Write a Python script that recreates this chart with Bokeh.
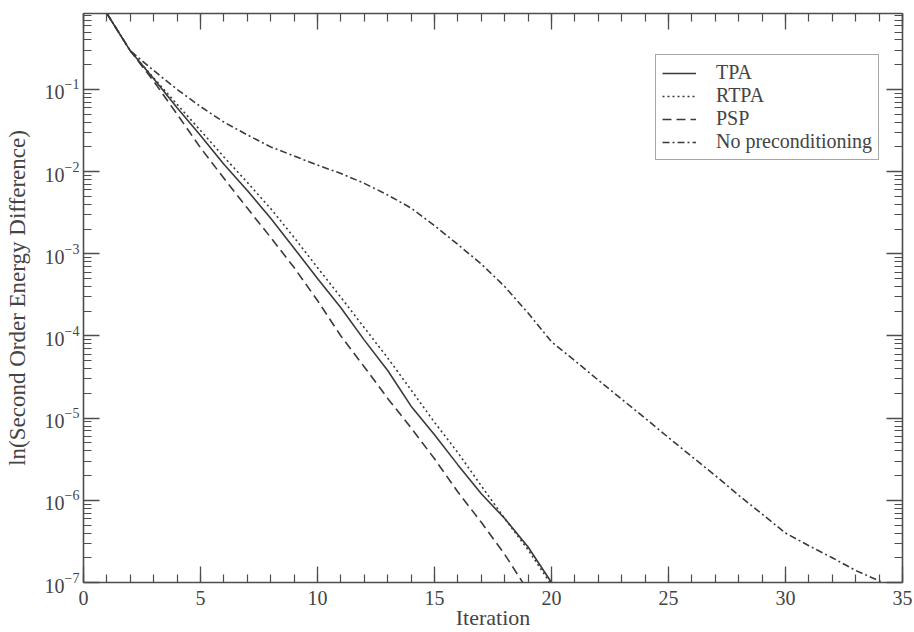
from bokeh.plotting import figure
from bokeh.models import (Range1d, FixedTicker, LinearAxis, LogAxis, Legend,
                          LegendItem, LogTickFormatter, CustomJSTickFormatter)
from bokeh.embed import file_html
from bokeh.resources import INLINE

# Convergence of the second order energy difference per iteration
iter_tpa = list(range(1, 21))
tpa = [0.84, 0.295, 0.135, 0.060, 0.0275, 0.0123, 0.0059, 0.0027, 0.00117, 5.0e-4,
       2.2e-4, 8.9e-5, 3.8e-5, 1.4e-5, 6.3e-6, 2.7e-6, 1.2e-6, 6.0e-7, 2.7e-7, 1.0e-7]

iter_rtpa = list(range(1, 21))
rtpa = [0.84, 0.295, 0.138, 0.066, 0.0316, 0.0151, 0.0074, 0.00355, 0.00158, 6.8e-4,
        2.95e-4, 1.26e-4, 5.4e-5, 2.2e-5, 8.9e-6, 3.8e-6, 1.5e-6, 6.0e-7, 2.5e-7, 9.3e-8]

iter_psp = list(range(1, 20))
psp = [0.84, 0.295, 0.126, 0.050, 0.0195, 0.0083, 0.0036, 0.00158, 6.8e-4, 2.7e-4,
       1.0e-4, 4.2e-5, 1.74e-5, 7.6e-6, 3.2e-6, 1.26e-6, 5.4e-7, 2.2e-7, 7.9e-8]

iter_none = list(range(1, 36))
no_precond = [0.84, 0.295, 0.17, 0.10, 0.062, 0.040, 0.028, 0.020, 0.0155, 0.0120,
              0.0095, 0.0072, 0.0052, 0.0036, 0.0022, 0.0013, 0.00075, 0.00040, 0.00019, 8.5e-5,
              5.0e-5, 2.9e-5, 1.7e-5, 1.0e-5, 5.8e-6, 3.4e-6, 2.0e-6, 1.15e-6, 6.8e-7, 4.0e-7,
              2.8e-7, 2.0e-7, 1.4e-7, 1.05e-7, 7.0e-8]

x_major = [0, 5, 10, 15, 20, 25, 30, 35]
x_minor = list(range(0, 36))
y_exponents = [-7, -6, -5, -4, -3, -2, -1]

FONT = "Liberation Serif"
INK = "#3a3a3a"
AXIS = "#4d4d4d"
TEXT = "#444444"

y_major = [10.0 ** e for e in y_exponents]
y_minor = [m * 10.0 ** e for e in y_exponents for m in range(1, 10)]

p = figure(width=914, height=632, x_range=Range1d(0, 35), y_range=Range1d(1e-7, 0.84),
           y_axis_type="log", output_backend="svg", toolbar_location=None,
           min_border_left=83, min_border_right=12, min_border_top=13, min_border_bottom=50,
           background_fill_color="white", border_fill_color="white")
p.outline_line_color = None
p.xgrid.visible = False
p.ygrid.visible = False

x_ticker = FixedTicker(ticks=x_major, minor_ticks=x_minor)
y_ticker = FixedTicker(ticks=y_major, minor_ticks=y_minor)


def style_axis(ax):
    ax.axis_line_color = AXIS
    ax.axis_line_width = 1.6
    ax.major_tick_line_color = AXIS
    ax.minor_tick_line_color = AXIS
    ax.major_tick_line_width = 1.3
    ax.minor_tick_line_width = 1.2
    ax.major_tick_in = 16
    ax.major_tick_out = 0
    ax.minor_tick_in = 8
    ax.minor_tick_out = 0
    ax.major_label_text_font = FONT
    ax.major_label_text_color = TEXT
    ax.major_label_text_font_size = "20px"
    ax.axis_label_text_font = FONT
    ax.axis_label_text_color = TEXT
    ax.axis_label_text_font_size = "22px"
    ax.axis_label_text_font_style = "normal"


xa = p.xaxis[0]
xa.ticker = x_ticker
xa.axis_label = "Iteration"
style_axis(xa)
xa.major_label_standoff = 8
xa.axis_label_standoff = -3

ya = p.yaxis[0]
ya.ticker = y_ticker
ya.formatter = LogTickFormatter()
ya.axis_label = "ln(Second Order Energy Difference)"
style_axis(ya)
ya.axis_label_text_font_size = "23px"
ya.major_label_standoff = 4
ya.axis_label_standoff = 12

# Mirrored frame axes on the top and right, ticks only
top = LinearAxis(ticker=x_ticker, formatter=CustomJSTickFormatter(code="return ''"))
style_axis(top)
top.major_label_standoff = 0
p.add_layout(top, "above")

right = LogAxis(ticker=y_ticker, formatter=CustomJSTickFormatter(code="return ''"))
style_axis(right)
right.major_label_standoff = 0
p.add_layout(right, "right")

r_tpa = p.line(iter_tpa, tpa, line_color=INK, line_width=1.6)
r_rtpa = p.line(iter_rtpa, rtpa, line_color=INK, line_width=1.6, line_dash="2 3")
r_psp = p.line(iter_psp, psp, line_color=INK, line_width=1.6, line_dash="9 5")
r_none = p.line(iter_none, no_precond, line_color=INK, line_width=1.6, line_dash="7 3 2 3")

legend = Legend(items=[
    LegendItem(label="TPA", renderers=[r_tpa]),
    LegendItem(label="RTPA", renderers=[r_rtpa]),
    LegendItem(label="PSP", renderers=[r_psp]),
    LegendItem(label="No preconditioning", renderers=[r_none]),
], location=(572, 422))
legend.label_text_font = FONT
legend.label_text_font_size = "20px"
legend.label_text_color = TEXT
legend.glyph_width = 34
legend.glyph_height = 18
legend.label_height = 18
legend.label_standoff = 20
legend.spacing = 0
legend.padding = 6
legend.margin = 0
legend.border_line_color = AXIS
legend.border_line_width = 1.5
legend.background_fill_alpha = 1.0
p.add_layout(legend)

open("out.html", "w").write(file_html(p, INLINE))
